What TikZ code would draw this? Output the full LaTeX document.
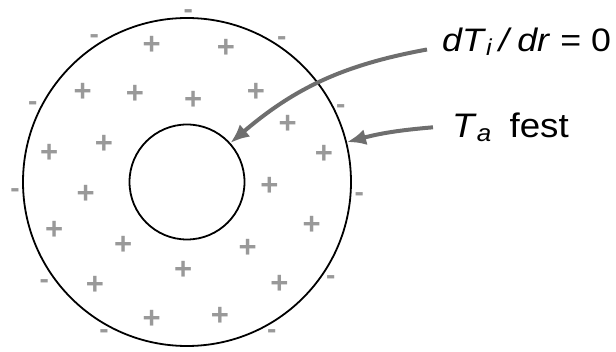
\documentclass[tikz,border=0pt]{standalone}
\usepackage{fontspec}
\setmainfont{Liberation Sans}
\usetikzlibrary{arrows.meta}

\begin{document}
\begin{tikzpicture}[
  x=1pt,y=-1pt,
  ring/.style={circle,draw=black,line width=1.8pt,inner sep=0pt},
  plussign/.style={text=black!40,font=\fontsize{31}{31}\selectfont\bfseries,
    inner sep=0pt,anchor=base,yshift=-10.7pt},
  minussign/.style={text=black!40,font=\fontsize{28}{28}\selectfont\bfseries,
    inner sep=0pt,anchor=base,yshift=-7.1pt},
  pointer/.style={draw=black!57,line width=4pt,-{Latex[length=19pt,width=16pt]}},
  formula/.style={inner sep=0pt}
]
\useasboundingbox (0,0) rectangle (616,352);

% Rohr: aussen und innen
\node[ring,minimum size=328pt] (outer) at (187,182) {};
\node[ring,minimum size=115pt] (inner) at (187,182) {};

% Quellen im Material
\foreach \p [count=\i] in {(151.7,44.3),(226,46.7),(82.7,90.7),(135,92.7),
    (193.3,98.7),(256,90.7),(287.7,123.3),(104,143.3),(49.3,152.3),
    (324,153.3),(269.3,185),(85.7,192.7),(311.7,224.3),(54.3,229.3),
    (123.3,244),(247.7,246.7),(183.3,269.3),(279.3,283.3),(95,284.3),
    (151.7,317.7),(220,315)}
  \node[plussign] (src\i) at \p {+};

% Senken am Rand
\foreach \p [count=\i] in {(188.3,11.2),(94.3,36.7),(281.7,38.7),
    (32.7,103.3),(340.7,106.7),(15,190.7),(359.3,194.3),(44.3,281.7),
    (330.7,277.3),(104,331.7),(271.7,331)}
  \node[minussign] (snk\i) at \p {-};

% Randbedingungen
\node[formula,anchor=base west] (dTi) at (442,52)
  {\scalebox{1.1}[1]{\fontsize{32.5}{38}\selectfont
   \textit{dT}\raisebox{-4pt}{\fontsize{23}{23}\selectfont\textit{i}}\hspace{6pt}\textit{/}\hspace{5pt}\textit{dr} = 0}};
\node[formula,anchor=base west] (Ta) at (452,137.5)
  {\scalebox{1.08}[1]{\fontsize{34}{40}\selectfont
   \textit{T}\raisebox{-4pt}{\fontsize{24}{24}\selectfont\textit{a}}\hspace{17pt}fest}};

\draw[pointer] ([xshift=-15pt,yshift=2.5pt]dTi.base west)
  to[bend right=15] (inner.42);
\draw[pointer] ([xshift=-19pt]Ta.west)
  to[bend right=5] (outer.14);

\end{tikzpicture}
\end{document}
